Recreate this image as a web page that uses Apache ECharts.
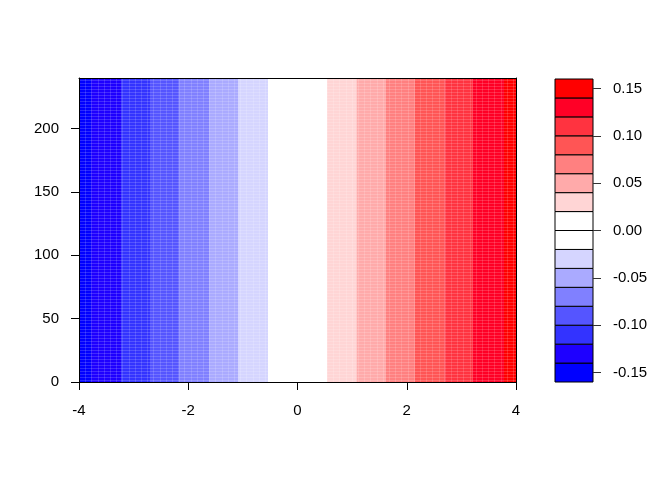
<!DOCTYPE html>
<html>
<head>
<meta charset="utf-8">
<script src="https://cdn.jsdelivr.net/npm/echarts@6/dist/echarts.min.js"></script>
<style>
html,body{margin:0;padding:0;background:#fff;}
#chart{width:672px;height:480px;}
</style>
</head>
<body>
<div id="chart"></div>
<script>
// ---- data ----
const bandEdges = [-4, -3.78, -3.23, -2.70, -2.16, -1.62, -1.08, -0.54, 0.54, 1.08, 1.62, 2.15, 2.69, 3.21, 3.78, 4];
const bandZ = [-0.15, -0.13, -0.11, -0.09, -0.07, -0.05, -0.03, 0.00, 0.03, 0.05, 0.07, 0.09, 0.11, 0.13, 0.15];
const yRange = [0, 240];
const levels = [-0.16, -0.14, -0.12, -0.10, -0.08, -0.06, -0.04, -0.02, 0.00, 0.02, 0.04, 0.06, 0.08, 0.10, 0.12, 0.14, 0.16];
const levelColors = ['#0000FF', '#1E00FF', '#3333FF', '#5555FF', '#8080FF', '#AAAAFF', '#D5D5FF', '#FFFFFF',
                     '#FFFFFF', '#FFD5D5', '#FFAAAA', '#FF8080', '#FF5555', '#FF3340', '#FF0026', '#FF0000'];
const xTicks = [-4, -2, 0, 2, 4];
const yTicks = [0, 50, 100, 150, 200];
const legendTicks = [-0.15, -0.10, -0.05, 0.00, 0.05, 0.10, 0.15];

function colorFor(z) {
  for (let i = 0; i < levelColors.length; i++) {
    if (z >= levels[i] - 1e-9 && z < levels[i + 1] - 1e-9) return levelColors[i];
  }
  return z < levels[0] ? levelColors[0] : levelColors[levelColors.length - 1];
}

const bandData = bandZ.map((z, i) => [bandEdges[i], bandEdges[i + 1], z]);
const legendData = levelColors.map((c, i) => [levels[i], levels[i + 1], i]);

const FONT = 'Liberation Sans, Arial, sans-serif';
const chart = echarts.init(document.getElementById('chart'), null, {renderer: 'canvas'});

const option = {
  animation: false,
  backgroundColor: '#ffffff',
  grid: [
    {left: 79, right: 156, top: 78, bottom: 98, containLabel: false},
    {left: 555, width: 38, top: 79, bottom: 98, containLabel: false}
  ],
  xAxis: [
    {
      gridIndex: 0, type: 'value', min: -4, max: 4, interval: 2, z: 10,
      axisLine: {show: true, onZero: false, lineStyle: {color: '#000', width: 1}},
      axisTick: {show: true, length: 8, inside: false, customValues: xTicks, lineStyle: {color: '#000'}},
      axisLabel: {show: true, customValues: xTicks, margin: 21, fontSize: 15, color: '#000', fontFamily: FONT},
      splitLine: {show: false}
    },
    {
      gridIndex: 0, type: 'value', position: 'top', min: -4, max: 4, z: 10,
      axisLine: {show: true, onZero: false, lineStyle: {color: '#000', width: 1}},
      axisTick: {show: false}, axisLabel: {show: false}, splitLine: {show: false}
    },
    {
      gridIndex: 1, type: 'value', min: 0, max: 1, show: false,
      axisLine: {onZero: false}
    }
  ],
  yAxis: [
    {
      gridIndex: 0, type: 'value', min: yRange[0], max: yRange[1], z: 10,
      axisLine: {show: true, onZero: false, lineStyle: {color: '#000', width: 1}},
      axisTick: {show: true, length: 8, inside: false, customValues: yTicks, lineStyle: {color: '#000'}},
      axisLabel: {show: true, customValues: yTicks, margin: 20, fontSize: 15, color: '#000', fontFamily: FONT},
      splitLine: {show: false}
    },
    {
      gridIndex: 0, type: 'value', position: 'right', min: yRange[0], max: yRange[1], z: 10,
      axisLine: {show: true, onZero: false, lineStyle: {color: '#000', width: 1}},
      axisTick: {show: false}, axisLabel: {show: false}, splitLine: {show: false}
    },
    {
      gridIndex: 1, type: 'value', position: 'right', min: levels[0], max: levels[levels.length - 1], z: 10,
      axisLine: {show: false, onZero: false},
      axisTick: {show: true, length: 8, inside: false, customValues: legendTicks, lineStyle: {color: '#333'}},
      axisLabel: {show: true, customValues: legendTicks, margin: 20, fontSize: 15, color: '#000', fontFamily: FONT,
                  formatter: v => Number(v).toFixed(2)},
      splitLine: {show: false}
    }
  ],
  series: [
    {
      type: 'custom',
      xAxisIndex: 0, yAxisIndex: 0,
      clip: true,
      data: bandData,
      renderItem: function (params, api) {
        const x0 = api.value(0), x1 = api.value(1), z = api.value(2);
        const pTL = api.coord([x0, yRange[1]]);
        const pBR = api.coord([x1, yRange[0]]);
        const origin = api.coord([-4, yRange[0]]);
        const left = pTL[0], top = pTL[1], right = pBR[0], bottom = pBR[1];
        const fill = colorFor(z);
        const children = [{
          type: 'rect',
          shape: {x: left, y: top, width: right - left, height: bottom - top},
          style: {fill: fill, stroke: null}
        }];
        if (fill !== '#FFFFFF') {
          let h = '';
          for (let y = bottom - 1.5; y > top; y -= 3) {
            h += 'M' + left.toFixed(2) + ' ' + y.toFixed(2) + 'L' + right.toFixed(2) + ' ' + y.toFixed(2);
          }
          let v = '';
          const step = 6.2;
          let k = Math.ceil((left - origin[0]) / step);
          for (let x = origin[0] + k * step; x < right; x += step) {
            const xx = Math.round(x) + 0.5;
            if (xx <= left || xx >= right) continue;
            v += 'M' + xx + ' ' + top.toFixed(2) + 'L' + xx + ' ' + bottom.toFixed(2);
          }
          children.push({type: 'path', shape: {pathData: h}, style: {fill: null, stroke: 'rgba(255,255,255,0.16)', lineWidth: 1}});
          if (v) children.push({type: 'path', shape: {pathData: v}, style: {fill: null, stroke: 'rgba(255,255,255,0.14)', lineWidth: 1}});
        }
        return {type: 'group', children: children};
      }
    },
    {
      type: 'custom',
      xAxisIndex: 2, yAxisIndex: 2,
      data: legendData,
      renderItem: function (params, api) {
        const lo = api.value(0), hi = api.value(1), idx = api.value(2);
        const pTop = api.coord([0, hi]);
        const pBot = api.coord([1, lo]);
        return {
          type: 'rect',
          shape: {x: pTop[0], y: pTop[1], width: pBot[0] - pTop[0], height: pBot[1] - pTop[1]},
          style: {fill: levelColors[idx], stroke: '#000', lineWidth: 1}
        };
      }
    }
  ]
};
chart.setOption(option);
</script>
</body>
</html>
